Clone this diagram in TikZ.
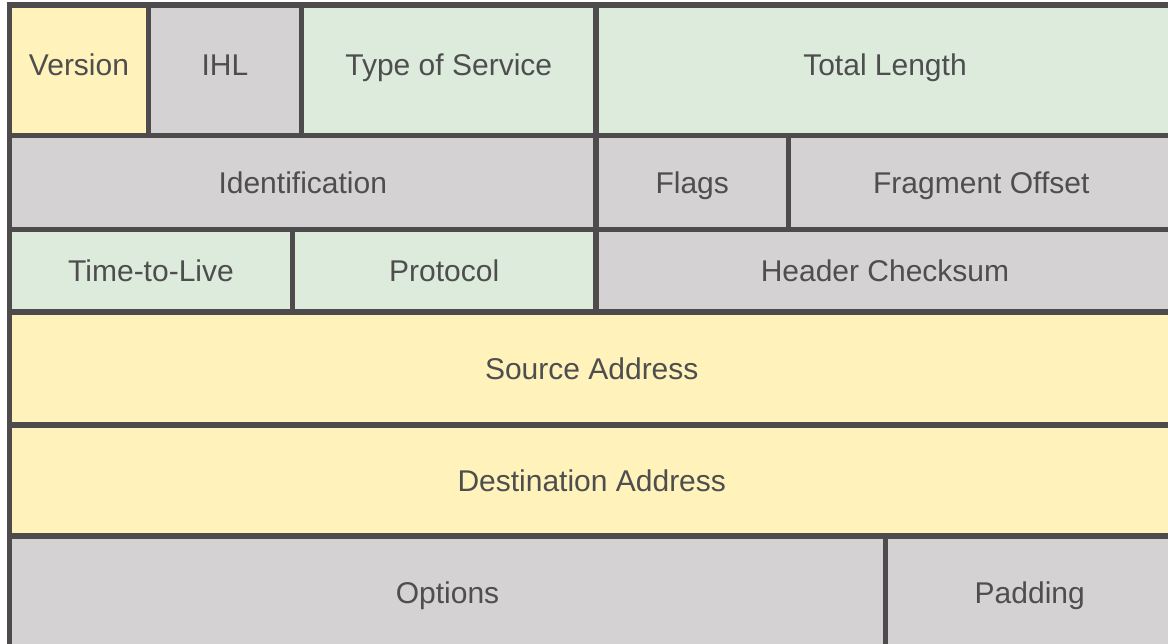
\documentclass[tikz,border=0pt]{standalone}
\usepackage{fontspec}
\setmainfont{Liberation Sans}
\definecolor{yel}{RGB}{255,242,187}
\definecolor{gry}{RGB}{212,210,211}
\definecolor{grn}{RGB}{220,235,219}
\definecolor{linec}{RGB}{77,75,75}
\definecolor{textc}{RGB}{78,78,78}
\newcommand\fieldcell[7]{%
  \pgfmathsetmacro\cw{#5-#3}\pgfmathsetmacro\ch{#6-#4}%
  \node[cell, fill=#2, minimum width=\cw pt, minimum height=\ch pt] (#1) at ({(#3+#5)/2},{(#4+#6)/2}) {#7};}
\begin{document}
\begin{tikzpicture}[x=1pt,y=-1pt,
  cell/.style={draw=linec, line width=5.5pt, outer sep=0pt, inner sep=0pt,
    text=textc, font=\fontsize{30}{33}\selectfont, text height=21.5pt, text depth=0pt}]
\useasboundingbox (0,0) rectangle (1168,644);
\clip (0,0) rectangle (1168,644);
% row 1
\fieldcell{version}{yel}{9.5}{5}{148.5}{135.5}{\raisebox{5pt}{Version}}
\fieldcell{ihl}{gry}{148.5}{5}{301.5}{135.5}{\raisebox{5pt}{IHL}}
\fieldcell{tos}{grn}{301.5}{5}{596}{135.5}{\raisebox{5pt}{Type of Service}}
\fieldcell{totlen}{grn}{596}{5}{1174}{135.5}{\raisebox{5pt}{Total Length}}
% row 2
\fieldcell{ident}{gry}{9.5}{135.5}{596}{229.5}{Identification}
\fieldcell{flags}{gry}{596}{135.5}{788.5}{229.5}{Flags}
\fieldcell{fragoff}{gry}{788.5}{135.5}{1174}{229.5}{Fragment Offset}
% row 3
\fieldcell{ttl}{grn}{9.5}{229.5}{292.5}{312}{Time-to-Live}
\fieldcell{proto}{grn}{292.5}{229.5}{596}{312}{Protocol}
\fieldcell{hcs}{gry}{596}{229.5}{1174}{312}{Header Checksum}
% row 4
\fieldcell{src}{yel}{9.5}{312}{1174}{425}{Source Address}
% row 5
\fieldcell{dst}{yel}{9.5}{425}{1174}{536}{Destination Address}
% row 6
\fieldcell{opts}{gry}{9.5}{536}{885.5}{650}{Options}
\fieldcell{pad}{gry}{885.5}{536}{1174}{650}{Padding}
\end{tikzpicture}
\end{document}
